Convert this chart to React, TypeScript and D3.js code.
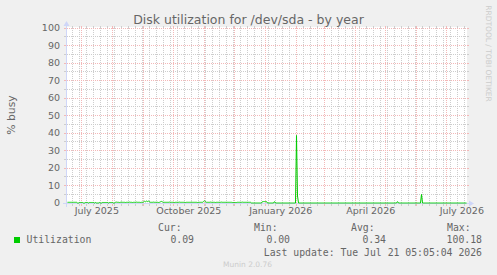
import React from 'react';
import * as d3 from 'd3';

const TITLE = 'Disk utilization for /dev/sda - by year';
const Y_LABEL = '% busy';
const END_TIME = Date.UTC(2026, 6, 21, 5, 5, 4);
const SPAN_DAYS = 400;
const DAY = 86400000;

const yMajorTicks = [0, 10, 20, 30, 40, 50, 60, 70, 80, 90, 100];
const yMinorTicks = [5, 15, 25, 35, 45, 55, 65, 75, 85, 95];

const xTickLabels = ['July 2025', 'October 2025', 'January 2026', 'April 2026', 'July 2026'];
const xTickMonths = [
  Date.UTC(2025, 6, 1),
  Date.UTC(2025, 9, 1),
  Date.UTC(2026, 0, 1),
  Date.UTC(2026, 3, 1),
  Date.UTC(2026, 6, 1),
];

const legendSeries = 'Utilization';
const legendHeaders = ['Cur:', 'Min:', 'Avg:', 'Max:'];
const legendValues = ['0.09', '0.00', '0.34', '100.18'];
const lastUpdate = 'Last update: Tue Jul 21 05:05:04 2026';
const watermark = 'Munin 2.0.76';
const sideMark = 'RRDTOOL / TOBI OETIKER';

// daily average utilization (%), one value per day over the 400-day window
const utilization = [
  0.4, 0.4, 0.4, 0.4, 0.4, 0.4, 0.4, 0.4, 0.4, 0.4, 0, 0, 0.3, 0.3, 0.3, 0.3, 0, 0, 0.3, 0.3,
  0.3, 0, 0.3, 0.3, 0.3, 0.3, 0.3, 0, 0.3, 0, 0, 0, 0.3, 0, 0, 0.3, 0.3, 0.3, 0.3, 0.3,
  0.3, 0, 0.3, 0.3, 0.3, 0.3, 0, 0, 0.4, 0.5, 0.4, 0.4, 0.3, 0.4, 0.5, 0.4, 0.4, 0.4, 0.3, 0.4,
  0.4, 0.4, 0.5, 0.4, 0.4, 0.3, 0.4, 0.4, 0.4, 0.5, 0.4, 0.4, 0.4, 0.3, 0.4, 0.4, 0.6, 1.0, 0.7, 1.1,
  0.8, 1.2, 0.6, 0.4, 0.4, 0.4, 0.5, 0.4, 0.4, 0.4, 0.4, 0.3, 0.4, 0.7, 0.9, 0.6, 0.4, 0.4, 0.4, 0.4,
  0.4, 0.4, 0.5, 0.4, 0.4, 0.4, 0.4, 0.3, 0.4, 0.4, 0.4, 0.4, 0.5, 0.4, 0.4, 0.4, 0.4, 0.4, 0.3, 0.4,
  0.4, 0.4, 0.4, 0.4, 0.5, 0.4, 0.4, 0.4, 0.4, 0.4, 0.3, 0.4, 0.4, 0.4, 0.4, 0.4, 0.8, 1.3, 0.7, 0.4,
  0.4, 0.4, 0.4, 0.5, 0.4, 0.4, 0.4, 0.4, 0.3, 0.4, 0.4, 0.4, 0.4, 0.4, 0.5, 0.4, 0.4, 0.4, 0.4, 0.4,
  0.4, 0.4, 0.4, 0.4, 0.4, 0.3, 0.3, 0.3, 0.3, 0.3, 0.4, 0.4, 0.4, 0.4, 0.4, 0.5, 0.4, 0.4, 0.4, 0.4,
  0.4, 0.4, 0.4, 0.4, 0, 0, 0, 0, 0, 0, 0, 0, 0, 0, 0, 0.8, 0.8, 0.8, 0.8, 0.8,
  0, 0, 0, 0, 0, 0, 0, 0.8, 0, 0, 0, 0, 0, 0, 0, 0, 0, 0, 0, 0,
  0, 0, 0, 0, 0, 0, 0, 0, 0, 38.6, 4.0, 0, 0, 0, 0, 0, 0, 0, 0, 0,
  0, 0, 0, 0, 0, 0, 0, 0, 0, 0, 0, 0, 0, 0, 0, 0, 0, 0, 0, 0,
  0, 0, 0, 0, 0, 0, 0, 0, 0, 0, 0, 0, 0, 0, 0, 0, 0, 0, 0, 0,
  0, 0, 0, 0, 0, 0, 0, 0, 0, 0, 0, 0, 0, 0, 0, 0, 0, 0, 0, 0,
  0, 0, 0, 0, 0, 0, 0, 0, 0, 0, 0, 0, 0, 0, 0, 0, 0, 0, 0, 0,
  0, 0, 0, 0, 0, 0, 0, 0, 0, 0, 0.8, 0, 0, 0, 0, 0, 0, 0, 0, 0,
  0, 0, 0, 0, 0, 0, 0, 0, 0, 0, 0, 0, 0, 0, 4.9, 0, 0, 0, 0, 0,
  0, 0, 0, 0, 0, 0, 0, 0, 0, 0, 0, 0, 0, 0, 0, 0, 0, 0, 0, 0,
  0, 0, 0, 0, 0, 0, 0, 0, 0, 0, 0, 0, 0, 0, 0, 0, 0, 0, 0, 0,
];

const W = 497;
const H = 275;
const X0 = 67;
const X1 = 467;
const Y0 = 203;
const Y1 = 28;

const SANS = "'DejaVu Sans', sans-serif";
const MONO = "'DejaVu Sans Mono', monospace";
const FONT_COLOR = '#666666';
const AXIS_COLOR = '#CFD6F8';
const MINOR_COLOR = 'rgb(205,205,205)';
const MAJOR_COLOR = 'rgb(243,184,184)';
const LINE_COLOR = '#00CC00';

export default function App() {
  const startTime = END_TIME - SPAN_DAYS * DAY;
  const x = d3.scaleUtc().domain([new Date(startTime), new Date(END_TIME)]).range([X0, X1]);
  const y = d3.scaleLinear().domain([0, 100]).range([Y0, Y1]);
  const snap = (v: number) => Math.floor(v) + 0.5;

  const months = d3.utcMonth.range(new Date(startTime), new Date(END_TIME));
  const weeks = d3.utcSunday.range(new Date(startTime), new Date(END_TIME));

  const points: [number, number][] = utilization.map((v, i) => [
    x(new Date(startTime + (i + 0.5) * DAY)),
    y(v),
  ]);
  const linePath = d3.line()(points) || '';

  const vLine = (xx: number, color: string, key: string) => (
    <g key={key}>
      <line x1={xx} x2={xx} y1={Y1 - 2} y2={Y1} stroke={color} strokeWidth={1} />
      <line x1={xx} x2={xx} y1={Y1} y2={Y0} stroke={color} strokeWidth={1} strokeDasharray="1,1" />
      <line x1={xx} x2={xx} y1={Y0} y2={Y0 + 3} stroke={color} strokeWidth={1} />
    </g>
  );
  const hLine = (yy: number, color: string, key: string) => (
    <g key={key}>
      <line x1={X0 - 3} x2={X0} y1={yy} y2={yy} stroke={color} strokeWidth={1} />
      <line x1={X0} x2={X1} y1={yy} y2={yy} stroke={color} strokeWidth={1} strokeDasharray="1,1" />
      <line x1={X1} x2={X1 + 2} y1={yy} y2={yy} stroke={color} strokeWidth={1} />
    </g>
  );

  const legendX = [158, 254, 351, 447];
  const legendValEnd = [194, 290, 386, 482];

  return (
    <svg
      width={W}
      height={H}
      viewBox={`0 0 ${W} ${H}`}
      style={{ position: 'absolute', left: 0, top: 0, display: 'block' }}
    >
      <rect x={0} y={0} width={W} height={H} fill="#F0F0F0" />
      <rect x={X0} y={Y1 - 1} width={X1 - X0} height={Y0 - Y1 + 1} fill="#FFFFFF" />

      {/* minor grid */}
      {yMinorTicks.map((t) => hLine(snap(y(t)), MINOR_COLOR, `hm${t}`))}
      {weeks.map((d, i) => vLine(snap(x(d)), MINOR_COLOR, `vm${i}`))}
      {/* major grid */}
      {yMajorTicks.filter((t) => t > 0).map((t) => hLine(snap(y(t)), MAJOR_COLOR, `hM${t}`))}
      {months.map((d, i) => vLine(snap(x(d)), MAJOR_COLOR, `vM${i}`))}

      {/* axes */}
      <line x1={X0 - 4} x2={X1 + 4} y1={Y0 + 0.5} y2={Y0 + 0.5} stroke={AXIS_COLOR} strokeWidth={1} />
      <line x1={X0 - 0.5} x2={X0 - 0.5} y1={Y0 + 4} y2={Y1 - 4} stroke={AXIS_COLOR} strokeWidth={1} />
      <path d={`M${X1 + 2},${Y0 - 2.5} L${X1 + 2},${Y0 + 3.5} L${X1 + 7},${Y0 + 0.5} Z`} fill={AXIS_COLOR} />
      <path d={`M${X0 - 3.5},${Y1 - 2} L${X0 + 2.5},${Y1 - 2} L${X0 - 0.5},${Y1 - 7} Z`} fill={AXIS_COLOR} />

      {/* data */}
      <path d={linePath} fill="none" stroke={LINE_COLOR} strokeWidth={1} />

      {/* y tick labels */}
      {yMajorTicks.map((t) => (
        <text
          key={`yl${t}`}
          x={60}
          y={y(t)}
          dy="0.36em"
          textAnchor="end"
          fontFamily={SANS}
          fontSize={9.5}
          fill={FONT_COLOR}
        >
          {t}
        </text>
      ))}

      {/* x tick labels */}
      {xTickLabels.map((lab, i) => (
        <text
          key={`xl${i}`}
          x={x(new Date(xTickMonths[i] + 15 * DAY))}
          y={214}
          textAnchor="middle"
          fontFamily={SANS}
          fontSize={9.5}
          fill={FONT_COLOR}
        >
          {lab}
        </text>
      ))}

      {/* title */}
      <text x={248.5} y={24} textAnchor="middle" fontFamily={SANS} fontSize={12.5} fill={FONT_COLOR}>
        {TITLE}
      </text>

      {/* y axis label */}
      <text
        transform="translate(14.5,115) rotate(-90)"
        textAnchor="middle"
        fontFamily={SANS}
        fontSize={10.8}
        fill={FONT_COLOR}
      >
        {Y_LABEL}
      </text>

      {/* side watermark */}
      <text
        transform="translate(485.5,53.5) rotate(90)"
        textAnchor="middle"
        fontFamily={SANS}
        fontSize={7.5}
        fill="#CCCCCC"
      >
        {sideMark}
      </text>

      {/* legend */}
      {legendHeaders.map((h, i) => (
        <text key={`lh${i}`} x={legendX[i]} y={230.5} fontFamily={MONO} fontSize={9.8} fill={FONT_COLOR}>
          {h}
        </text>
      ))}
      <rect x={14} y={237} width={6} height={6} fill={LINE_COLOR} />
      <text x={26.5} y={243} fontFamily={MONO} fontSize={9.8} fill={FONT_COLOR}>
        {legendSeries}
      </text>
      {legendValues.map((v, i) => (
        <text
          key={`lv${i}`}
          x={legendValEnd[i]}
          y={243}
          textAnchor="end"
          fontFamily={MONO}
          fontSize={9.8}
          fill={FONT_COLOR}
        >
          {v}
        </text>
      ))}
      <text x={482} y={255.5} textAnchor="end" fontFamily={MONO} fontSize={9.8} fill={FONT_COLOR}>
        {lastUpdate}
      </text>

      <text x={247.5} y={267} textAnchor="middle" fontFamily={SANS} fontSize={7.5} fill="#CCCCCC">
        {watermark}
      </text>
    </svg>
  );
}
